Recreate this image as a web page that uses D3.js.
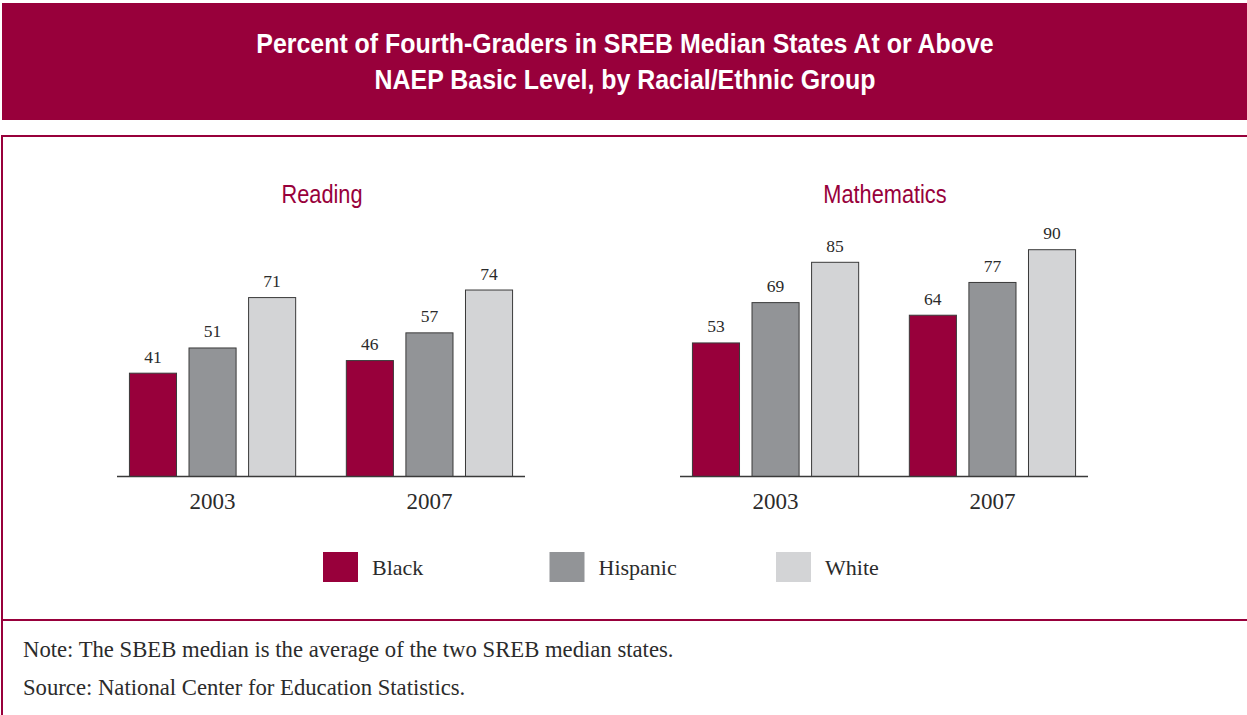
<!DOCTYPE html>
<html>
<head>
<meta charset="utf-8">
<script src="https://cdn.jsdelivr.net/npm/d3@7"></script>
<style>
  html, body { margin: 0; padding: 0; background: #fff; }
  svg { display: block; }
  .serif { font-family: "Liberation Serif", "DejaVu Serif", serif; fill: #2b2b2b; }
  .narrow { font-family: "Liberation Sans Narrow", "Arial Narrow", "Liberation Sans", sans-serif; }
</style>
</head>
<body>
<svg id="chart"></svg>
<script>
const TITLE_LINES = [
  "Percent of Fourth-Graders in SREB Median States At or Above",
  "NAEP Basic Level, by Racial/Ethnic Group"
];
const YEARS    = ["2003", "2007"];
const SERIES   = ["Black", "Hispanic", "White"];
const SUBJECTS = ["Reading", "Mathematics"];
const READING  = [[41, 51, 71], [46, 57, 74]];
const MATH     = [[53, 69, 85], [64, 77, 90]];
const NOTES = [
  "Note: The SBEB median is the average of the two SREB median states.",
  "Source: National Center for Education Statistics."
];

const CRIMSON = "#98003b";
const COLORS  = { Black: CRIMSON, Hispanic: "#929497", White: "#d3d4d6" };

const W = 1247, H = 715;
const BASE_Y = 476;
const NARROW = 0.89;   // no condensed font installed, squeeze the sans instead
const PANELS = [
  { name: SUBJECTS[0], data: READING, x0: 117, x1: 525 },
  { name: SUBJECTS[1], data: MATH,    x0: 680, x1: 1088 }
];

const svg = d3.select("#chart").attr("width", W).attr("height", H);

// header band
svg.append("rect")
  .attr("x", 2).attr("y", 3).attr("width", W - 2).attr("height", 117)
  .attr("fill", CRIMSON);

svg.selectAll("text.title")
  .data(TITLE_LINES)
  .enter().append("text")
  .attr("class", "title narrow")
  .attr("transform", (d, i) => `translate(625,${53 + i * 36}) scale(${NARROW},1)`)
  .attr("text-anchor", "middle")
  .attr("fill", "#fff")
  .attr("font-size", 28)
  .attr("font-weight", "bold")
  .text((d) => d);

// frame lines
const frame = svg.append("g").attr("stroke", CRIMSON).attr("stroke-width", 2);
frame.append("line").attr("x1", 2).attr("x2", W).attr("y1", 136).attr("y2", 136);
frame.append("line").attr("x1", 2).attr("x2", 2).attr("y1", 135).attr("y2", H);
frame.append("line").attr("x1", 2).attr("x2", W).attr("y1", 620).attr("y2", 620);

const y = d3.scaleLinear().domain([0, 100]).range([BASE_Y, BASE_Y - 252]);

PANELS.forEach((p) => {
  const g = svg.append("g");

  const x0 = d3.scaleBand()
    .domain(YEARS)
    .range([p.x0, p.x1])
    .paddingInner(0.229)
    .paddingOuter(0.055);

  const x1 = d3.scaleBand()
    .domain(SERIES)
    .range([0, x0.bandwidth()])
    .paddingInner(0.193)
    .paddingOuter(0);

  g.append("text")
    .attr("class", "narrow")
    .attr("transform", `translate(${(p.x0 + p.x1) / 2 + 1},203) scale(0.87,1)`)
    .attr("text-anchor", "middle")
    .attr("fill", CRIMSON)
    .attr("font-size", 25)
    .text(p.name);

  const groups = g.selectAll("g.year")
    .data(YEARS.map((yr, i) => ({ yr, vals: p.data[i] })))
    .enter().append("g")
    .attr("transform", (d) => `translate(${x0(d.yr)},0)`);

  groups.selectAll("rect")
    .data((d) => d.vals.map((v, j) => ({ s: SERIES[j], v })))
    .enter().append("rect")
    .attr("x", (d) => x1(d.s) + 0.5)
    .attr("y", (d) => y(d.v) + 0.5)
    .attr("width", x1.bandwidth() - 1)
    .attr("height", (d) => BASE_Y - y(d.v))
    .attr("fill", (d) => COLORS[d.s])
    .attr("stroke", "#3a3a3a")
    .attr("stroke-width", 1);

  groups.selectAll("text.val")
    .data((d) => d.vals.map((v, j) => ({ s: SERIES[j], v })))
    .enter().append("text")
    .attr("class", "val serif")
    .attr("x", (d) => x1(d.s) + x1.bandwidth() / 2)
    .attr("y", (d) => y(d.v) - 10)
    .attr("text-anchor", "middle")
    .attr("font-size", 17.5)
    .text((d) => d.v);

  groups.append("text")
    .attr("class", "serif")
    .attr("x", x0.bandwidth() / 2)
    .attr("y", 509)
    .attr("text-anchor", "middle")
    .attr("font-size", 23)
    .text((d) => d.yr);

  g.append("line")
    .attr("x1", p.x0).attr("x2", p.x1)
    .attr("y1", BASE_Y + 0.5).attr("y2", BASE_Y + 0.5)
    .attr("stroke", "#3a3a3a").attr("stroke-width", 1.5);
});

// legend
const legend = svg.append("g")
  .selectAll("g")
  .data(SERIES)
  .enter().append("g")
  .attr("transform", (d, i) => `translate(${323 + i * 226.5},552)`);

legend.append("rect")
  .attr("width", 35).attr("height", 30)
  .attr("fill", (d) => COLORS[d]);

legend.append("text")
  .attr("class", "serif")
  .attr("x", 49).attr("y", 23)
  .attr("font-size", 22)
  .text((d) => d);

// notes
svg.selectAll("text.note")
  .data(NOTES)
  .enter().append("text")
  .attr("class", "note serif")
  .attr("x", 23)
  .attr("y", (d, i) => 657 + i * 38)
  .attr("font-size", 22.7)
  .text((d) => d);
</script>
</body>
</html>
